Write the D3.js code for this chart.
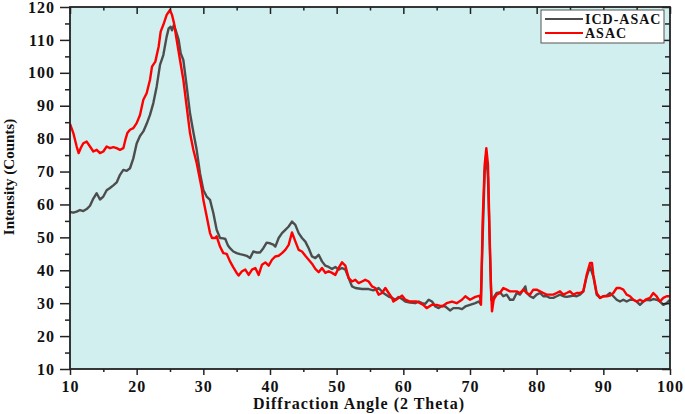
<!DOCTYPE html>
<html>
<head>
<meta charset="utf-8">
<script src="https://cdn.jsdelivr.net/npm/d3@7"></script>
<style>
  body { margin: 0; background: #fff; }
  text { font-family: "Liberation Serif", "Times New Roman", serif; font-weight: bold; fill: #111; }
</style>
</head>
<body>
<div id="xrd"></div>
<script>
// ICD-ASAC (grey) [2theta, counts]
var icdAsac = [
  [10.0,57.7],[10.5,57.5],[11.0,57.8],[11.5,58.3],[12.0,58.0],[12.5,58.6],[13.0,59.6],[13.5,61.8],[14.0,63.4],[14.5,61.5],
  [15.0,62.4],[15.5,64.3],[16.0,65.0],[16.5,65.8],[17.0,66.7],[17.5,69.0],[18.0,70.5],[18.5,70.2],[19.0,71.0],[19.5,74.0],
  [20.0,78.5],[20.5,80.8],[21.0,82.2],[21.5,84.5],[22.0,87.2],[22.5,90.8],[23.0,95.8],[23.5,102.4],[24.0,105.4],[24.5,111.0],
  [24.8,113.5],[25.1,114.0],[25.3,112.9],[25.6,114.6],[26.0,112.0],[26.3,110.0],[26.6,106.0],[27.0,103.9],[27.5,96.0],[28.0,87.7],
  [28.5,82.0],[29.0,76.6],[29.5,69.5],[30.0,64.4],[30.5,62.4],[31.0,61.4],[31.5,57.4],[32.0,52.3],[32.5,49.8],[33.0,49.7],
  [33.3,49.5],[33.7,47.5],[34.0,46.7],[34.5,45.7],[35.0,45.2],[35.5,44.9],[36.0,44.7],[36.5,44.4],[37.0,43.7],[37.5,45.7],
  [38.0,45.4],[38.5,45.4],[39.0,46.7],[39.5,48.4],[40.0,48.2],[40.5,47.8],[40.8,47.2],[41.3,49.8],[41.8,51.3],[42.3,52.3],
  [42.8,53.3],[43.3,54.8],[43.8,53.8],[44.3,51.3],[44.8,49.8],[45.3,48.7],[45.8,46.7],[46.3,44.2],[46.8,43.7],[47.3,44.7],
  [47.8,42.7],[48.3,41.4],[48.8,41.0],[49.3,40.4],[49.8,41.0],[50.3,40.2],[50.8,40.7],[51.3,40.2],[51.8,37.6],[52.3,35.1],
  [52.8,34.6],[53.8,34.3],[54.8,34.3],[55.5,33.9],[56.3,34.6],[57.0,33.1],[57.8,32.0],[58.3,31.6],[58.8,31.05],[59.3,31.9],
  [59.8,31.25],[60.3,30.5],[61.0,30.2],[61.8,30.0],[62.3,30.5],[62.8,30.0],[63.3,29.8],[63.8,31.05],[64.3,30.5],[64.8,29.0],
  [65.3,28.5],[65.8,29.2],[66.3,29.0],[67.0,27.8],[67.5,28.5],[68.3,28.5],[68.8,28.2],[69.3,29.0],[70.0,29.5],[70.8,30.0],
  [71.3,30.5],[71.6,29.8],[71.9,50],[72.2,70],[72.45,75.5],[72.7,68],[73.0,45],[73.2,31],[73.5,31.6],[74.0,33.1],
  [74.5,33.3],[75.0,32.1],[75.5,32.6],[76.0,31.05],[76.5,31.05],[77.0,33.1],[77.5,32.6],[78.0,34.1],[78.3,35.1],[78.5,33.1],
  [79.0,32.1],[79.5,31.6],[80.0,32.6],[80.5,33.1],[81.0,32.1],[81.5,32.1],[82.0,31.6],[82.5,31.6],[83.0,32.1],[83.5,32.6],
  [84.0,32.1],[84.5,31.9],[85.0,32.1],[85.5,32.3],[86.0,32.1],[86.5,32.6],[87.0,33.6],[87.5,38.1],[88.0,41.2],[88.5,38.1],
  [89.0,32.6],[89.5,31.6],[90.0,32.1],[90.5,32.3],[91.0,33.1],[91.5,32.1],[92.0,31.05],[92.5,30.5],[93.0,31.05],[93.5,30.5],
  [94.0,31.05],[94.5,31.05],[95.0,30.5],[95.5,29.5],[96.0,30.5],[96.5,31.05],[97.0,30.85],[97.5,31.25],[98.0,31.05],[98.5,30.5],
  [99.0,29.5],[99.5,30.0],[100.0,31.05]
]
// ASAC (red)
var asac = [
  [10.0,84.5],[10.5,81.7],[11.0,77.6],[11.3,75.6],[11.6,77.1],[12.0,78.6],[12.5,79.1],[13.0,77.6],[13.5,76.1],[14.0,76.6],
  [14.5,75.6],[15.0,76.1],[15.5,77.6],[16.0,77.1],[16.5,77.4],[17.0,77.1],[17.5,76.6],[18.0,77.1],[18.3,79.6],[18.6,81.7],
  [19.0,82.7],[19.5,83.2],[20.0,84.7],[20.5,87.2],[21.0,91.8],[21.5,93.8],[22.0,97.9],[22.3,101.9],[22.8,103.4],[23.3,108.0],
  [23.6,112.5],[24.0,114.6],[24.5,117.6],[25.0,119.1],[25.3,117.6],[25.6,115.1],[26.0,110.0],[26.5,103.9],[27.0,97.9],[27.5,89.7],
  [28.0,81.7],[28.5,76.6],[29.0,72.6],[29.5,67.5],[29.8,64.4],[30.0,61.4],[30.5,56.4],[31.0,51.3],[31.3,49.8],[31.8,49.8],
  [32.0,50.3],[32.5,47.2],[33.0,45.2],[33.5,45.0],[34.0,42.7],[34.5,40.9],[35.0,39.2],[35.3,38.4],[35.8,39.7],[36.3,40.2],
  [36.8,38.6],[37.3,40.2],[37.8,40.7],[38.3,38.6],[38.8,41.7],[39.3,42.4],[39.8,41.4],[40.3,43.2],[40.8,44.2],[41.3,44.4],
  [41.8,45.2],[42.3,46.2],[42.8,47.7],[43.3,51.5],[43.8,48.8],[44.3,46.2],[44.8,45.7],[45.3,44.4],[45.8,43.2],[46.3,42.0],
  [46.8,40.4],[47.3,39.4],[47.8,40.7],[48.3,39.2],[48.8,39.7],[49.3,39.2],[49.8,38.6],[50.3,40.7],[50.8,42.4],[51.3,41.4],
  [51.8,37.6],[52.3,36.6],[52.8,37.1],[53.3,36.1],[53.8,36.6],[54.3,37.1],[54.8,36.6],[55.3,35.1],[55.8,34.6],[56.3,32.6],
  [56.8,33.1],[57.3,34.6],[57.8,33.1],[58.3,31.6],[58.5,30.5],[59.3,31.6],[59.8,32.3],[60.3,31.05],[61.0,30.5],[62.0,30.5],
  [63.0,29.5],[63.5,28.5],[64.3,29.5],[65.0,29.5],[65.8,29.0],[66.5,30.0],[67.3,30.5],[68.0,30.0],[68.8,31.05],[69.3,32.1],
  [70.0,31.05],[70.8,31.9],[71.5,32.3],[71.65,29.5],[71.9,55],[72.2,72],[72.45,77.1],[72.7,72],[72.95,50],[73.15,35],
  [73.3,27.5],[73.55,31.05],[74.0,32.6],[74.5,33.1],[75.0,34.6],[75.5,34.1],[76.0,33.6],[76.5,33.6],[77.0,33.6],[77.5,33.1],
  [78.0,34.1],[78.5,33.1],[79.0,32.6],[79.5,34.1],[80.0,34.1],[80.5,33.6],[81.0,33.1],[81.5,32.6],[82.0,32.6],[82.5,32.6],
  [83.0,33.1],[83.5,33.6],[84.0,32.6],[84.5,33.1],[85.0,33.6],[85.5,32.6],[86.0,33.1],[86.5,33.1],[87.0,33.6],[87.5,38.6],
  [88.0,42.2],[88.3,42.2],[88.5,38.6],[89.0,33.1],[89.5,31.6],[90.0,32.1],[90.5,32.1],[91.0,32.3],[91.5,33.1],[92.0,34.6],
  [92.5,34.6],[93.0,34.1],[93.5,32.6],[94.0,32.1],[94.5,31.05],[95.0,30.5],[95.5,31.05],[96.0,30.5],[96.5,31.25],[97.0,31.6],
  [97.5,33.1],[98.0,32.1],[98.5,30.5],[99.0,31.6],[99.5,32.1],[100.0,32.1]
]
var xMajor = [10,20,30,40,50,60,70,80,90,100]
var xMinor = [15,25,35,45,55,65,75,85,95]
var yMajor = [10,20,30,40,50,60,70,80,90,100,110,120]
var yMinor = [15,25,35,45,55,65,75,85,95,105,115]
var seriesNames = ["ICD-ASAC", "ASAC"]
var seriesColors = ["#4d4d4d", "#ff0000"]

var svg = d3.select("#xrd").append("svg")
    .attr("width", 685)
    .attr("height", 414)

var x = d3.scaleLinear().domain([10, 100]).range([70, 670])
var y = d3.scaleLinear().domain([10, 120]).range([369, 7])

svg.append("rect")
    .attr("x", x(10)).attr("y", y(120))
    .attr("width", x(100) - x(10)).attr("height", y(10) - y(120))
    .attr("fill", "#d2efef")

svg.append("clipPath").attr("id", "plotClip")
  .append("rect")
    .attr("x", x(10)).attr("y", y(120))
    .attr("width", x(100) - x(10)).attr("height", y(10) - y(120))

var line = d3.line()
    .x(d => x(d[0]))
    .y(d => y(d[1]))

var lines = svg.append("g").attr("clip-path", "url(#plotClip)")
lines.append("path")
    .datum(icdAsac)
    .attr("d", line)
    .attr("fill", "none")
    .attr("stroke", seriesColors[0])
    .attr("stroke-width", 2.4)
    .attr("stroke-linejoin", "round")
lines.append("path")
    .datum(asac)
    .attr("d", line)
    .attr("fill", "none")
    .attr("stroke", seriesColors[1])
    .attr("stroke-width", 2.4)
    .attr("stroke-linejoin", "round")

function styleAxis(g) {
  g.select(".domain").remove()
  g.selectAll("line").attr("stroke", "#222").attr("stroke-width", 1.5)
  g.selectAll("text")
    .attr("fill", "#111")
    .style("font-size", "16px")
    .style("letter-spacing", "1px")
}

// left
svg.append("g").attr("transform", "translate(" + x(10) + ",0)")
    .call(d3.axisLeft(y).tickValues(yMajor).tickSize(10).tickPadding(5))
    .call(styleAxis)
svg.append("g").attr("transform", "translate(" + x(10) + ",0)")
    .call(d3.axisLeft(y).tickValues(yMinor).tickSize(5).tickFormat(""))
    .call(styleAxis)
// bottom
svg.append("g").attr("transform", "translate(0," + y(10) + ")")
    .call(d3.axisBottom(x).tickValues(xMajor).tickSize(6).tickPadding(6))
    .call(styleAxis)
svg.append("g").attr("transform", "translate(0," + y(10) + ")")
    .call(d3.axisBottom(x).tickValues(xMinor).tickSize(3).tickFormat(""))
    .call(styleAxis)
// top (inward)
svg.append("g").attr("transform", "translate(0," + y(120) + ")")
    .call(d3.axisTop(x).tickValues(xMajor).tickSize(-7).tickFormat(""))
    .call(styleAxis)
svg.append("g").attr("transform", "translate(0," + y(120) + ")")
    .call(d3.axisTop(x).tickValues(xMinor).tickSize(-3.5).tickFormat(""))
    .call(styleAxis)
// right (inward)
svg.append("g").attr("transform", "translate(" + x(100) + ",0)")
    .call(d3.axisRight(y).tickValues(yMajor).tickSize(-8).tickFormat(""))
    .call(styleAxis)
svg.append("g").attr("transform", "translate(" + x(100) + ",0)")
    .call(d3.axisRight(y).tickValues(yMinor).tickSize(-5).tickFormat(""))
    .call(styleAxis)

svg.append("rect")
    .attr("x", x(10)).attr("y", y(120))
    .attr("width", x(100) - x(10)).attr("height", y(10) - y(120))
    .attr("fill", "none")
    .attr("stroke", "#222")
    .attr("stroke-width", 1.8)

svg.append("text")
    .attr("x", 359).attr("y", 409)
    .attr("text-anchor", "middle")
    .style("font-size", "16px")
    .style("letter-spacing", "1px")
    .text("Diffraction Angle (2 Theta)")

svg.append("text")
    .attr("transform", "translate(14,177) rotate(-90)")
    .attr("text-anchor", "middle")
    .style("font-size", "15px")
    .text("Intensity (Counts)")

// legend
var legend = svg.append("g")
legend.append("rect")
    .attr("x", 541).attr("y", 10)
    .attr("width", 123).attr("height", 33)
    .attr("fill", "#fff")
    .attr("stroke", "#555")
    .attr("stroke-width", 1)
seriesNames.forEach((name, i) => {
  legend.append("line")
      .attr("x1", 545).attr("x2", 583)
      .attr("y1", 19 + i * 14).attr("y2", 19 + i * 14)
      .attr("stroke", seriesColors[i])
      .attr("stroke-width", 2)
  legend.append("text")
      .attr("x", 585).attr("y", 24 + i * 14)
      .style("font-size", "14px")
      .style("letter-spacing", "1px")
      .text(name)
})
</script>
</body>
</html>
